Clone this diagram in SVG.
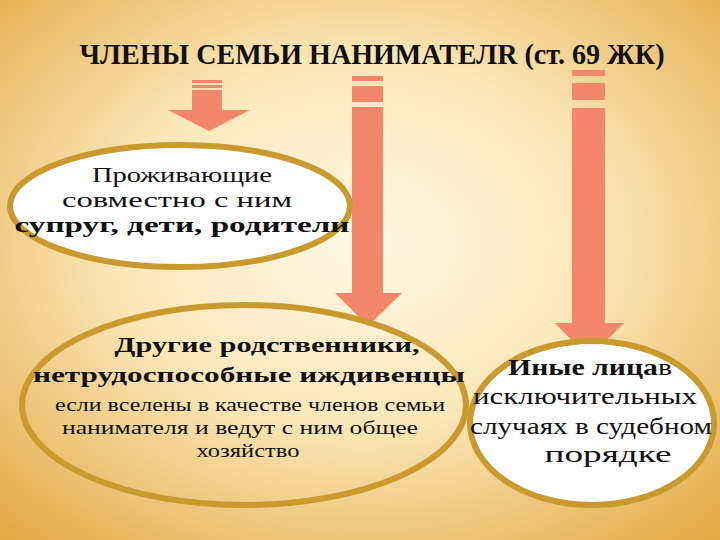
<svg xmlns="http://www.w3.org/2000/svg" width="720" height="540" viewBox="0 0 720 540">
<defs>
<radialGradient id="bg" cx="0.5" cy="0.45" r="0.75">
<stop offset="0" stop-color="#fff8e6"/>
<stop offset="0.45" stop-color="#fbe7b8"/>
<stop offset="1" stop-color="#e2a63e"/>
</radialGradient>
<style>
.ar{fill:#f4876a}
.ov{stroke:#c99a2e;stroke-width:6}
.t{font-family:"Liberation Serif",serif;fill:#111;text-anchor:middle}
.m{font-family:"Liberation Serif",serif;fill:#111;text-anchor:middle}
</style>
</defs>
<rect width="720" height="540" fill="url(#bg)"/>
<text x="372" y="64" class="t" font-size="29" font-weight="bold" textLength="585" lengthAdjust="spacingAndGlyphs">ЧЛЕНЫ СЕМЬИ НАНИМАТЕЛR (ст. 69 ЖК)</text>
<g id="connectors">
<g class="ar">
<rect x="192" y="80" width="30" height="3"/><rect x="192" y="85" width="30" height="3"/>
<rect x="192" y="90" width="30" height="20"/>
<polygon points="168,110 250,110 209,131"/>
<rect x="352" y="76" width="31" height="5"/><rect x="352" y="86" width="31" height="16"/>
<rect x="352" y="107" width="31" height="186"/>
<polygon points="335,293 402,293 368,326"/>
<rect x="572" y="70" width="33" height="6"/><rect x="572" y="83" width="33" height="17"/>
<rect x="572" y="108" width="33" height="215"/>
<polygon points="555,323 624,323 589,358"/>
</g>
</g>
<g id="node1">
<ellipse cx="180" cy="206" rx="170" ry="61" fill="#fff" class="ov"/>
<text x="182" y="182" class="m" font-size="21" textLength="180" lengthAdjust="spacingAndGlyphs">Проживающие</text>
<text x="177" y="207" class="m" font-size="21" textLength="230" lengthAdjust="spacingAndGlyphs">совместно с ним</text>
<text x="182" y="232" class="m" font-size="21" font-weight="bold" textLength="335" lengthAdjust="spacingAndGlyphs">супруг, дети, родители</text>
</g>
<g id="node2">
<ellipse cx="244" cy="405" rx="222" ry="100" fill="none" class="ov"/>
<text x="267" y="352" class="m" font-size="22" font-weight="bold" textLength="305" lengthAdjust="spacingAndGlyphs">Другие родственники,</text>
<text x="249" y="382" class="m" font-size="22" font-weight="bold" textLength="432" lengthAdjust="spacingAndGlyphs">нетрудоспособные иждивенцы</text>
<text x="250" y="411" class="t" font-size="18" textLength="390" lengthAdjust="spacingAndGlyphs">если вселены в качестве членов семьи</text>
<text x="240" y="434" class="t" font-size="18" textLength="356" lengthAdjust="spacingAndGlyphs">нанимателя и ведут с ним общее</text>
<text x="248" y="457" class="t" font-size="18" textLength="103" lengthAdjust="spacingAndGlyphs">хозяйство</text>
</g>
<g id="node3">
<ellipse cx="592" cy="423" rx="122" ry="82" fill="#fff" class="ov"/>
<text x="590" y="375" class="m" font-size="23" textLength="164" lengthAdjust="spacingAndGlyphs"><tspan font-weight="bold">Иные лица</tspan>в</text>
<text x="585" y="404" class="m" font-size="23" textLength="224" lengthAdjust="spacingAndGlyphs">исключительных</text>
<text x="591" y="434" class="m" font-size="23" textLength="242" lengthAdjust="spacingAndGlyphs">случаях в судебном</text>
<text x="608" y="462" class="m" font-size="23" textLength="127" lengthAdjust="spacingAndGlyphs">порядке</text>
</g>
</svg>
